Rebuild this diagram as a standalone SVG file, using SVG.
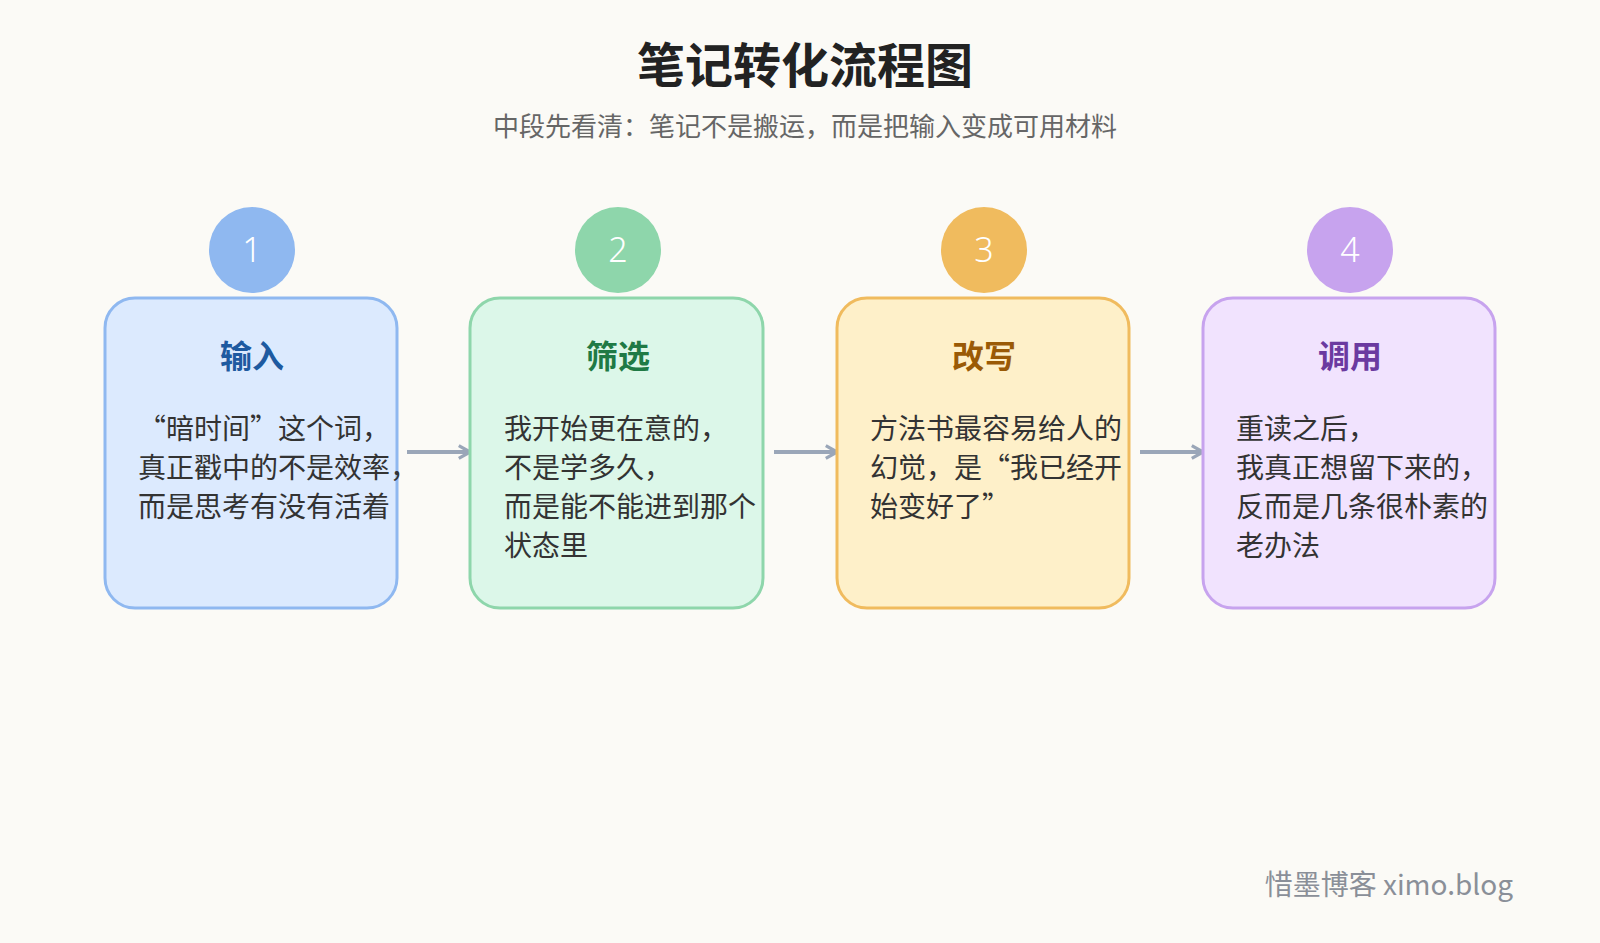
<svg xmlns="http://www.w3.org/2000/svg" width="1600" height="943" viewBox="0 0 1600 943">
<style>
text{font-family:"Noto Sans CJK SC","Noto Sans",sans-serif}
.t{font-size:48px;font-weight:700;fill:#222;text-anchor:middle}
.s{font-size:26px;fill:#666;text-anchor:middle}
.h{font-size:32px;font-weight:700;text-anchor:middle}
.b{font-size:28px;fill:#333}
.n{font-size:34px;fill:#fff;text-anchor:middle;font-family:"Noto Sans",sans-serif;font-weight:300}
.c{stroke:#9aa6b8;stroke-width:4;fill:none}
</style>
<defs><marker id="a" viewBox="0 0 10 10" refX="8" refY="5" markerWidth="4" markerHeight="4" orient="auto"><path d="M1,1 L8,5 L1,9" fill="none" stroke="#9aa6b8" stroke-width="2"/></marker></defs>
<rect width="1600" height="943" fill="#fbfaf6"/>
<text class="t" x="805" y="83">笔记转化流程图</text>
<text class="s" x="805" y="136">中段先看清：笔记不是搬运，而是把输入变成可用材料</text>
<g id="connectors">
<line class="c" x1="407" y1="452" x2="470" y2="452" marker-end="url(#a)"/>
<line class="c" x1="774" y1="452" x2="837" y2="452" marker-end="url(#a)"/>
<line class="c" x1="1140" y1="452" x2="1203" y2="452" marker-end="url(#a)"/>
</g>
<g id="n1"><rect x="105" y="298" width="292" height="310" rx="30" fill="#dceafe" stroke="#8fb8f0" stroke-width="3"/>
<circle cx="252" cy="250" r="43" fill="#8fb8f0"/><text class="n" x="252" y="262">1</text>
<text class="h" x="252" y="368" fill="#1e5aa0">输入</text>
<text class="b" x="138" y="439"><tspan x="138">“暗时间”这个词，</tspan><tspan x="138" dy="39">真正戳中的不是效率，</tspan><tspan x="138" dy="39">而是思考有没有活着</tspan></text></g>
<g id="n2"><rect x="470" y="298" width="293" height="310" rx="30" fill="#dcf7e9" stroke="#8ed6ab" stroke-width="3"/>
<circle cx="618" cy="250" r="43" fill="#8ed6ab"/><text class="n" x="618" y="262">2</text>
<text class="h" x="618" y="368" fill="#1f7a45">筛选</text>
<text class="b" x="504" y="439"><tspan x="504">我开始更在意的，</tspan><tspan x="504" dy="39">不是学多久，</tspan><tspan x="504" dy="39">而是能不能进到那个</tspan><tspan x="504" dy="39">状态里</tspan></text></g>
<g id="n3"><rect x="837" y="298" width="292" height="310" rx="30" fill="#fef0c9" stroke="#f0bb5e" stroke-width="3"/>
<circle cx="984" cy="250" r="43" fill="#f0bb5e"/><text class="n" x="984" y="262">3</text>
<text class="h" x="984" y="368" fill="#9a5a06">改写</text>
<text class="b" x="870" y="439"><tspan x="870">方法书最容易给人的</tspan><tspan x="870" dy="39">幻觉，是“我已经开</tspan><tspan x="870" dy="39">始变好了”</tspan></text></g>
<g id="n4"><rect x="1203" y="298" width="292" height="310" rx="30" fill="#f1e3fe" stroke="#c7a3ee" stroke-width="3"/>
<circle cx="1350" cy="250" r="43" fill="#c7a3ee"/><text class="n" x="1350" y="262">4</text>
<text class="h" x="1350" y="368" fill="#6b3aa0">调用</text>
<text class="b" x="1236" y="439"><tspan x="1236">重读之后，</tspan><tspan x="1236" dy="39">我真正想留下来的，</tspan><tspan x="1236" dy="39">反而是几条很朴素的</tspan><tspan x="1236" dy="39">老办法</tspan></text></g>
<text x="1513" y="895" font-size="28" fill="#8a8f98" text-anchor="end">惜墨博客 ximo.blog</text>
</svg>
